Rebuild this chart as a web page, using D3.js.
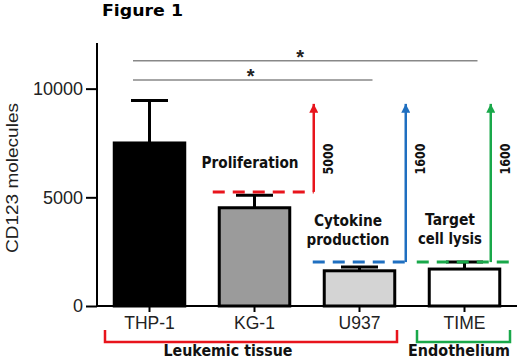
<!DOCTYPE html>
<html><head><meta charset="utf-8">
<script src="https://cdn.jsdelivr.net/npm/d3@7"></script>
<style>body{margin:0;background:#fff}svg{display:block}</style>
</head><body><svg id="c" width="520" height="360"></svg>
<script>
const categories = ["THP-1","KG-1","U937","TIME"];
const means = [7500, 4520, 1620, 1700];
const errTops = [9450, 5100, 1800, 2020];
const fills = ["#000000","#9b9b9b","#d4d4d4","#ffffff"];
const yTicks = [0, 5000, 10000];
const thresholdLevels = [5250, 2020, 2020];
const thresholdLabels = ["5000","1600","1600"];
const thresholdNames = [["Proliferation"],["Cytokine","production"],["Target","cell lysis"]];
const thresholdColors = ["#e8141c","#1f6fc0","#19a84a"];
const sigLevels = [11280, 10400];
const sigEnds = ["TIME","U937"];
const groups = ["Leukemic tissue","Endothelium"];

const svg = d3.select("#c");
const x = d3.scaleBand().domain(categories).range([97,517]).paddingInner(0.3).paddingOuter(0.15);
const y = d3.scaleLinear().domain([0,12100]).range([306,43]);
const cx = c => x(c) + x.bandwidth()/2;
const sans = "'Liberation Sans', Arial, sans-serif";
const bold = "'DejaVu Sans', 'Open Sans', sans-serif";

// title
svg.append("text").attr("x",102).attr("y",16).attr("font-family",bold).attr("font-weight","bold")
  .attr("font-size",16).attr("textLength",81).attr("lengthAdjust","spacingAndGlyphs").text("Figure 1");

// bars
svg.selectAll("rect.bar").data(categories).join("rect")
  .attr("x",d=>x(d)+1.5).attr("width",x.bandwidth()-3)
  .attr("y",(d,i)=>y(means[i])).attr("height",(d,i)=>y(0)-y(means[i]))
  .attr("fill",(d,i)=>fills[i]).attr("stroke","#000").attr("stroke-width",3);
// error bars
categories.forEach((c,i)=>{
  svg.append("line").attr("x1",cx(c)).attr("x2",cx(c)).attr("y1",y(means[i])).attr("y2",y(errTops[i]))
    .attr("stroke","#000").attr("stroke-width",3);
  svg.append("line").attr("x1",cx(c)-18.5).attr("x2",cx(c)+18.5).attr("y1",y(errTops[i])).attr("y2",y(errTops[i]))
    .attr("stroke","#000").attr("stroke-width",3);
});

// axes
const yAxis = svg.append("g").attr("transform","translate(97,0)")
  .call(d3.axisLeft(y).tickValues(yTicks).tickSize(11).tickPadding(3).tickFormat(d3.format("d")));
yAxis.select(".domain").attr("d","M0,43V306").attr("stroke-width",2);
yAxis.selectAll(".tick line").attr("stroke-width",2);
yAxis.selectAll("text").attr("font-family",sans).attr("font-size",18).attr("fill","#222");
const xAxis = svg.append("g").attr("transform","translate(0,306)")
  .call(d3.axisBottom(x).tickSize(6).tickPadding(5));
xAxis.select(".domain").attr("d","M97,0H517").attr("stroke-width",2);
xAxis.selectAll(".tick line").attr("stroke-width",2);
xAxis.selectAll("text").attr("font-family",sans).attr("font-size",17.5).attr("fill","#222");

// y title
svg.append("text").attr("transform","translate(18,178) rotate(-90)").attr("text-anchor","middle")
  .attr("font-family",sans).attr("font-size",17).attr("fill","#222")
  .attr("textLength",150).attr("lengthAdjust","spacingAndGlyphs").text("CD123 molecules");

// significance
const sigStart = cx("THP-1") - 16.5;
sigLevels.forEach((v,i)=>{
  const xe = cx(sigEnds[i]) + 13;
  svg.append("line").attr("x1",sigStart).attr("x2",xe).attr("y1",y(v)).attr("y2",y(v))
    .attr("stroke","#888").attr("stroke-width",1.6);
  svg.append("text").attr("x",(sigStart+xe)/2 + (i===0?-5:-2)).attr("y",y(v)+3).attr("text-anchor","middle")
    .attr("font-family",sans).attr("font-size",20).attr("font-weight","bold").attr("fill","#222").text("*");
});

// thresholds
const arrowX = [x("U937")-9, x("TIME")-22, x("TIME")+63];
const dashStart = [x("KG-1")-5, x("U937")-10, x("TIME")-11];
const dashEnd = [arrowX[0], arrowX[1], 513];
const arrowTop = y(9300);
const defs = svg.append("defs");
thresholdColors.forEach((col,i)=>{
  defs.append("marker").attr("id","ah"+i).attr("viewBox","0 0 10 10").attr("refX",10).attr("refY",5)
    .attr("markerWidth",9).attr("markerHeight",9).attr("markerUnits","userSpaceOnUse").attr("orient","auto")
    .append("path").attr("d","M0,0L10,5L0,10z").attr("fill",col);
  const ty = y(thresholdLevels[i]);
  svg.append("line").attr("x1",dashStart[i]).attr("x2",dashEnd[i]).attr("y1",ty).attr("y2",ty)
    .attr("stroke",col).attr("stroke-width",3).attr("stroke-dasharray","12,8");
  svg.append("line").attr("x1",arrowX[i]).attr("x2",arrowX[i]).attr("y1",ty).attr("y2",arrowTop)
    .attr("stroke",col).attr("stroke-width",2.5).attr("marker-end","url(#ah"+i+")");
  svg.append("text").attr("transform",`translate(${arrowX[i]+19.5},${159}) rotate(-90)`)
    .attr("text-anchor","middle").attr("font-family",bold).attr("font-weight","bold").attr("font-size",14)
    .attr("fill","#111").attr("textLength",31).attr("lengthAdjust","spacingAndGlyphs").text(thresholdLabels[i]);
});
// threshold names
const nameSpecs = [
  {cx:250, ys:[168], w:[97]},
  {cx:348, ys:[226,245], w:[68,83]},
  {cx:450, ys:[225,244], w:[50,64]}
];
thresholdNames.forEach((lines,i)=>{
  lines.forEach((t,j)=>{
    svg.append("text").attr("x",nameSpecs[i].cx).attr("y",nameSpecs[i].ys[j]).attr("text-anchor","middle")
      .attr("font-family",bold).attr("font-weight","bold").attr("font-size",15.5).attr("fill","#111")
      .attr("textLength",nameSpecs[i].w[j]).attr("lengthAdjust","spacingAndGlyphs").text(t);
  });
});

// group brackets
const brackets = [
  {x1:105, x2:397, col:"#e8141c", tx:228, w:129},
  {x1:417, x2:510, col:"#19a84a", tx:459, w:102}
];
brackets.forEach((b,i)=>{
  svg.append("path").attr("d",`M${b.x1},330V342H${b.x2}V330`).attr("fill","none")
    .attr("stroke",b.col).attr("stroke-width",2.5);
  svg.append("text").attr("x",b.tx).attr("y",356).attr("text-anchor","middle")
    .attr("font-family",bold).attr("font-weight","bold").attr("font-size",15).attr("fill","#111")
    .attr("textLength",b.w).attr("lengthAdjust","spacingAndGlyphs").text(groups[i]);
});
</script></body></html>
